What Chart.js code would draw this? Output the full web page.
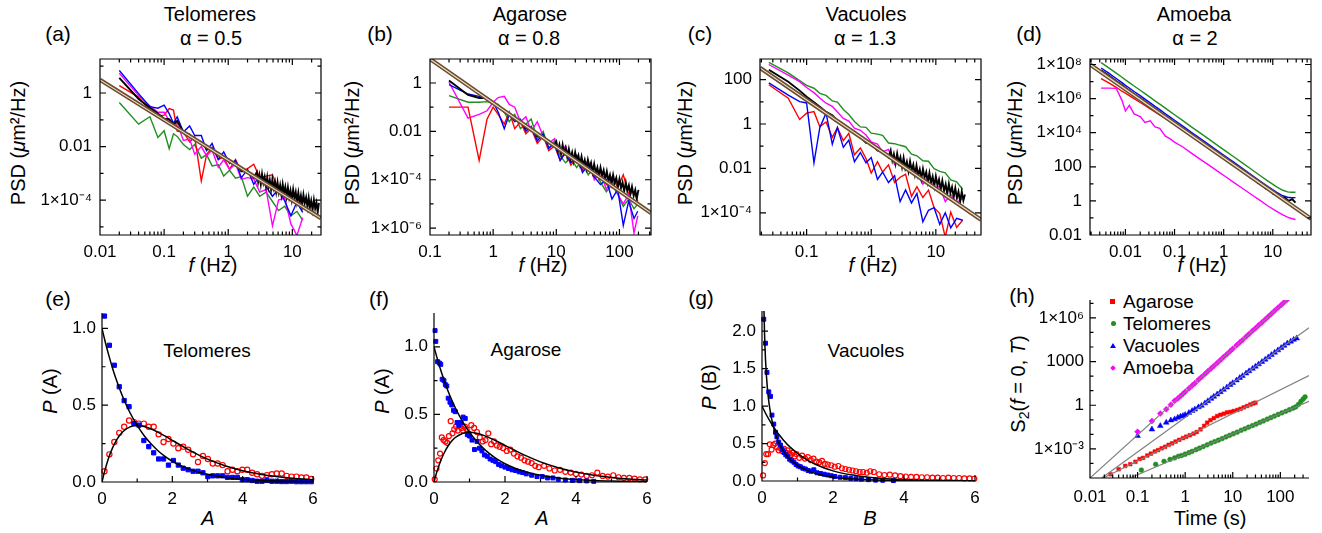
<!DOCTYPE html>
<html>
<head>
<meta charset="utf-8">
<script src="https://cdn.jsdelivr.net/npm/chart.js@4.4.1/dist/chart.umd.min.js"></script>
<style>
body{margin:0;width:1322px;height:533px;background:#fff;position:relative;overflow:hidden;font-family:"Liberation Sans",Arial,Helvetica,sans-serif;color:#000}
canvas{position:absolute}
.t{position:absolute;transform:translate(-50%,-50%);white-space:nowrap;line-height:1;font-size:20px}
.pl{font-size:21px}
.in{font-size:19px}
.rot{transform:translate(-50%,-50%) rotate(-90deg)}
.lg{position:absolute;transform:translate(0,-50%);white-space:nowrap;line-height:1;font-size:19px}
.mk{position:absolute}
sub{font-size:0.7em;vertical-align:-0.25em;line-height:0}
</style>
</head>
<body>
<!-- panel titles -->
<div class="t" style="left:210px;top:14px">Telomeres</div>
<div class="t" style="left:211px;top:38px">α = 0.5</div>
<div class="t" style="left:530px;top:14px">Agarose</div>
<div class="t" style="left:529px;top:38px">α = 0.8</div>
<div class="t" style="left:866px;top:14px">Vacuoles</div>
<div class="t" style="left:865px;top:38px">α = 1.3</div>
<div class="t" style="left:1194px;top:14px">Amoeba</div>
<div class="t" style="left:1195px;top:38px">α = 2</div>

<div class="t pl" style="left:58px;top:33px">(a)</div>
<div class="t pl" style="left:380px;top:33px">(b)</div>
<div class="t pl" style="left:700px;top:33px">(c)</div>
<div class="t pl" style="left:1029px;top:33px">(d)</div>
<div class="t pl" style="left:58px;top:298px">(e)</div>
<div class="t pl" style="left:379px;top:298px">(f)</div>
<div class="t pl" style="left:701px;top:297px">(g)</div>
<div class="t pl" style="left:1022px;top:295px">(h)</div>

<!-- axis titles -->
<div class="t rot" style="left:18px;top:143px">PSD (<i>μ</i>m²/Hz)</div>
<div class="t rot" style="left:352px;top:143px">PSD (<i>μ</i>m²/Hz)</div>
<div class="t rot" style="left:685px;top:143px">PSD (<i>μ</i>m²/Hz)</div>
<div class="t rot" style="left:1015px;top:143px">PSD (<i>μ</i>m²/Hz)</div>
<div class="t" style="left:213px;top:265px"><i>f</i> (Hz)</div>
<div class="t" style="left:543px;top:265px"><i>f</i> (Hz)</div>
<div class="t" style="left:873px;top:265px"><i>f</i> (Hz)</div>
<div class="t" style="left:1202px;top:265px"><i>f</i> (Hz)</div>

<div class="t rot" style="left:50px;top:391px"><i>P</i> (A)</div>
<div class="t rot" style="left:382px;top:391px"><i>P</i> (A)</div>
<div class="t rot" style="left:709px;top:387px"><i>P</i> (B)</div>
<div class="t rot" style="left:1018px;top:384px">S<sub>2</sub>(<i>f</i> = 0, <i>T</i>)</div>
<div class="t" style="left:208px;top:518px"><i>A</i></div>
<div class="t" style="left:542px;top:518px"><i>A</i></div>
<div class="t" style="left:870px;top:518px"><i>B</i></div>
<div class="t" style="left:1210px;top:518px">Time (s)</div>

<div class="t in" style="left:207px;top:350px">Telomeres</div>
<div class="t in" style="left:526px;top:349px">Agarose</div>
<div class="t in" style="left:866px;top:350px">Vacuoles</div>

<!-- legend of (h) -->
<div class="mk" style="left:1110px;top:299px;width:5px;height:5px;background:#ff0000"></div>
<div class="lg" style="left:1123px;top:301px">Agarose</div>
<div class="mk" style="left:1111px;top:321px;width:5px;height:5px;border-radius:50%;background:#1f8f1f"></div>
<div class="lg" style="left:1123px;top:323px">Telomeres</div>
<div class="mk" style="left:1110px;top:343px;width:0;height:0;border-left:3px solid transparent;border-right:3px solid transparent;border-bottom:5px solid #0000ff"></div>
<div class="lg" style="left:1123px;top:345px">Vacuoles</div>
<div class="mk" style="left:1111px;top:366px;width:4px;height:4px;background:#ff00ff;transform:rotate(45deg)"></div>
<div class="lg" style="left:1123px;top:367px">Amoeba</div>

<script>
// ---------- (a) Telomeres PSD ----------
const aFreq = [0.02, 0.04, 0.06, 0.08, 0.1, 0.12, 0.14, 0.16, 0.2, 0.25, 0.3, 0.38, 0.46, 0.56, 0.7, 0.85, 1.05, 1.3, 1.6, 2.0, 2.5, 3.1, 3.9, 4.9, 6.1, 7.6, 9.5, 11.8, 14.5];
const aRed = [1.9, 0.7, 0.23, 0.14, 0.15, 0.26, 0.23, 0.038, 0.035, 0.015, 0.023, 5.2e-4, 0.005, 0.0093, 0.0033, 0.004, 0.0014, 0.0033, 0.0012, 0.0015, 0.0022, 7.1e-4, 7.9e-4, 8.9e-4, 2.6e-4, 2.6e-4, 1.3e-4, 1.5e-4, 4.5e-5];
const aGreen = [0.44, 0.069, 0.13, 0.022, 0.039, 0.0083, 0.030, 0.024, 0.012, 0.0078, 0.012, 0.0037, 0.005, 0.0019, 0.0021, 7.9e-4, 0.0013, 6.6e-4, 7.6e-4, 1.4e-4, 3.1e-4, 1.4e-4, 2.0e-4, 8.9e-5, 4.1e-5, 5.9e-5, 2.6e-5, 3.8e-5, 1.8e-5];
const aBlue = [6.9, 0.95, 0.31, 0.27, 0.35, 0.17, 0.074, 0.13, 0.035, 0.059, 0.026, 0.026, 0.0071, 0.013, 0.0033, 0.0063, 0.0023, 0.003, 6.8e-4, 1.4e-3, 3.9e-4, 7.9e-4, 3.2e-4, 1.4e-4, 2.6e-4, 9.3e-5, 2.6e-5, 8.5e-5, 3.5e-5];
const aMagenta = [5.5, 0.8, 0.33, 0.19, 0.19, 0.093, 0.066, 0.076, 0.017, 0.019, 0.0052, 0.010, 0.0045, 0.0074, 0.0017, 0.0032, 0.0014, 0.0023, 6.0e-4, 6.9e-4, 6.2e-4, 2.0e-4, 2.5e-4, 1.1e-5, 1.0e-4, 1.2e-4, 1.3e-5, 4.8e-6, 2.2e-5];
const aBlackFreq = [0.02, 0.04, 0.06, 0.08, 0.1, 0.12, 0.14, 0.16, 0.2, 0.25, 0.3, 0.38, 0.46, 0.56, 0.7, 0.85, 1.05, 1.3, 1.6, 2.0, 2.5,
  2.8, 2.93, 3.07, 3.22, 3.37, 3.53, 3.7, 3.88, 4.06, 4.25, 4.45, 4.66, 4.88, 5.11, 5.36, 5.61, 5.88, 6.16, 6.45, 6.76, 7.08, 7.42, 7.77, 8.14, 8.53, 8.93, 9.36, 9.8, 10.3, 10.8, 11.3, 11.8, 12.4, 13.0, 13.6, 14.2, 14.9, 15.6, 16.4, 17.2, 18.0, 18.8, 19.7, 20.7, 21.7, 22.7, 23.8, 24.9, 26.0];
const aBlack = [3.7, 0.6, 0.28, 0.17, 0.11, 0.105, 0.066, 0.091, 0.035, 0.028, 0.017, 0.015, 0.0079, 0.0083, 0.0047, 0.004, 0.0026, 0.0023, 0.0012, 0.0012, 6.9e-4,
  1.12e-3, 4.8e-4, 8.7e-4, 3.9e-4, 9.3e-4, 4.5e-4, 7.4e-4, 3.3e-4, 7.1e-4, 3.1e-4, 5.6e-4, 2.5e-4, 6.0e-4, 2.9e-4, 4.8e-4, 2.1e-4, 4.6e-4, 2.0e-4, 3.6e-4, 1.6e-4, 3.9e-4, 1.8e-4, 3.1e-4, 1.38e-4, 3.0e-4, 1.29e-4, 2.3e-4, 1.05e-4, 2.5e-4, 1.17e-4, 2.0e-4, 8.7e-5, 1.9e-4, 8.1e-5, 1.48e-4, 6.8e-5, 1.6e-4, 7.6e-5, 1.26e-4, 5.6e-5, 1.23e-4, 5.3e-5, 9.5e-5, 4.3e-5, 1.02e-4, 4.9e-5, 8.1e-5, 3.6e-5, 7.9e-5];
const aFitFreq = [0.01, 28];
const aFit = [3.1, 2.1e-5];
const aXTicks = [0.01, 0.1, 1, 10];
const aXLabels = ['0.01', '0.1', '1', '10'];
const aYTicks = [1e-4, 0.01, 1];
const aYLabels = ['1×10⁻⁴', '0.01', '1'];

// ---------- (b) Agarose PSD ----------
const bFreq = [0.2, 0.4, 0.6, 0.8, 1.0, 1.2, 1.5, 1.8, 2.2, 2.7, 3.3, 4.0, 5.0, 6.2, 7.6, 9.4, 11.5, 14, 17, 21, 26, 32, 40, 50, 62, 76, 94, 115, 140, 170, 195];
const bRed = [0.1, 0.1, 6.3e-4, 0.032, 0.1, 0.05, 0.02, 0.063, 0.013, 0.025, 0.0079, 0.013, 0.0032, 0.0063, 1.6e-3, 2.5e-3, 6.3e-4, 1.6e-3, 4.0e-4, 7.9e-4, 2.5e-4, 5.0e-4, 1.3e-4, 2.5e-4, 6.3e-5, 1.3e-4, 5.0e-5, 1.6e-4, 2.5e-5, 3.2e-5, 1.3e-5];
const bGreen = [0.3, 0.16, 0.16, 0.17, 0.14, 0.13, 0.063, 0.025, 0.05, 0.013, 0.02, 0.032, 0.005, 0.01, 2.0e-3, 4.0e-3, 1.0e-3, 5.0e-4, 7.9e-4, 3.2e-4, 6.3e-4, 1.6e-4, 3.2e-4, 7.9e-5, 3.2e-5, 6.3e-5, 2.5e-5, 7.9e-6, 1.6e-5, 6.3e-6, 1.0e-5];
const bBlue = [0.85, 0.35, 0.28, 0.25, 0.16, 0.063, 0.013, 0.05, 0.025, 0.032, 0.01, 0.016, 0.004, 0.0079, 0.002, 0.0032, 6.3e-4, 1.3e-3, 5.0e-4, 1.0e-3, 2.0e-4, 4.0e-4, 1.3e-4, 6.3e-5, 1.0e-4, 1.6e-5, 4.0e-5, 1.3e-6, 1.3e-5, 2.5e-6, 5.0e-6];
const bMagenta = [1.07, 0.035, 0.05, 0.071, 0.16, 0.25, 0.28, 0.13, 0.1, 0.025, 0.04, 0.01, 0.025, 0.0063, 0.0032, 0.005, 1.3e-3, 2.5e-3, 5.0e-4, 1.0e-3, 3.2e-4, 6.3e-4, 1.0e-4, 2.0e-4, 4.0e-5, 1.0e-4, 2.5e-5, 1.0e-5, 2.5e-5, 6.3e-7, 3.2e-6];
const bBlackFreq = [0.2, 0.4, 0.6, 0.8, 1.0, 1.2, 1.5, 1.8, 2.2, 2.7, 3.3, 4.0, 5.0, 6.2, 7.6, 9.4,
  10, 10.6, 11.2, 11.9, 12.6, 13.3, 14.1, 14.9, 15.8, 16.8, 17.8, 18.8, 19.9, 21.1, 22.4, 23.7, 25.1, 26.6, 28.2, 29.9, 31.6, 33.5, 35.5, 37.6, 39.8, 42.2, 44.7, 47.3, 50.1, 53.1, 56.2, 59.6, 63.1, 66.8, 70.8, 75, 79.4, 84.1, 89.1, 94.4, 100, 106, 112, 119, 126, 133, 141, 149, 158, 168, 178, 188, 200];
const bBlack = [1.26, 0.32, 0.24, 0.24, 0.14, 0.11, 0.063, 0.05, 0.032, 0.025, 0.013, 0.013, 0.0063, 0.0063, 0.0032, 0.0028,
  3.8e-3, 1.6e-3, 2.8e-3, 1.2e-3, 2.8e-3, 1.29e-3, 2.1e-3, 8.9e-4, 1.86e-3, 7.8e-4, 1.35e-3, 5.9e-4, 1.35e-3, 6.3e-4, 1.02e-3, 4.4e-4, 9.1e-4, 3.8e-4, 6.6e-4, 2.9e-4, 6.6e-4, 3.1e-4, 5.0e-4, 2.1e-4, 4.5e-4, 1.86e-4, 3.2e-4, 1.41e-4, 3.2e-4, 1.51e-4, 2.5e-4, 1.05e-4, 2.2e-4, 9.1e-5, 1.58e-4, 6.9e-5, 1.58e-4, 7.4e-5, 1.2e-4, 5.1e-5, 1.07e-4, 4.5e-5, 7.8e-5, 3.4e-5, 7.8e-5, 3.5e-5, 5.9e-5, 2.5e-5, 5.2e-5, 2.2e-5, 3.8e-5, 1.66e-5, 3.8e-5];
const bFitFreq = [0.1, 316];
const bFit = [9.8, 4.2e-6];
const bXTicks = [0.1, 1, 10, 100];
const bXLabels = ['0.1', '1', '10', '100'];
const bYTicks = [1e-6, 1e-4, 0.01, 1];
const bYLabels = ['1×10⁻⁶', '1×10⁻⁴', '0.01', '1'];

// ---------- (c) Vacuoles PSD ----------
const cFreq = [0.026, 0.052, 0.078, 0.1, 0.13, 0.16, 0.2, 0.25, 0.3, 0.37, 0.45, 0.55, 0.68, 0.83, 1.0, 1.25, 1.5, 1.85, 2.3, 2.8, 3.4, 4.2, 5.1, 6.3, 7.7, 9.4, 11.5, 14, 17, 21, 26];
const cRed = [59, 14.5, 1.6, 3.1, 3.6, 0.76, 1.23, 0.25, 0.69, 0.18, 0.38, 0.041, 0.083, 0.028, 0.0062, 0.02, 0.0069, 0.0145, 0.0023, 0.004, 0.0054, 5.5e-4, 0.0015, 4.9e-4, 0.00105, 1.7e-4, 9.3e-5, 7.9e-6, 1.07e-4, 2.2e-5, 4.6e-5];
const cGreen = [600, 200, 90, 55, 41, 24, 19.5, 11, 9.8, 4.5, 2.7, 1.3, 0.74, 0.71, 0.39, 0.35, 0.31, 0.14, 0.13, 0.11, 0.095, 0.044, 0.037, 0.022, 0.021, 0.0098, 0.0074, 0.0063, 0.003, 0.0025, 0.00115];
const cBlue = [71, 20, 10.2, 8.9, 0.018, 0.68, 3.1, 0.123, 0.69, 0.089, 0.19, 0.02, 0.052, 0.018, 0.031, 0.0032, 0.0069, 0.0023, 0.0047, 3.2e-4, 0.00107, 2.8e-4, 7.4e-4, 3.9e-5, 1.3e-4, 1.7e-4, 3.0e-5, 1.0e-4, 2.1e-5, 5.6e-5, 4.6e-5];
const cMagenta = [480, 160, 81, 44, 26, 15, 8.7, 6.2, 3.5, 1.8, 1.35, 0.65, 0.52, 0.32, 0.155, 0.126, 0.055, 0.072, 0.015, 0.025, 0.0085, 0.0123, 0.0059, 0.00195, 0.0042, 0.00138, 0.00148, 3.2e-4, 6.8e-4, 2.8e-4, 4.6e-4];
const cBlackFreq = [0.026, 0.052, 0.078, 0.1, 0.13, 0.16, 0.2, 0.25, 0.3, 0.37, 0.45, 0.55, 0.68, 0.83, 1.0, 1.25, 1.5, 1.85,
  2.0, 2.12, 2.24, 2.38, 2.52, 2.67, 2.83, 3.0, 3.17, 3.36, 3.56, 3.77, 3.99, 4.23, 4.48, 4.74, 5.02, 5.32, 5.64, 5.97, 6.32, 6.7, 7.1, 7.52, 7.96, 8.43, 8.93, 9.46, 10.0, 10.6, 11.2, 11.9, 12.6, 13.4, 14.2, 15.0, 15.9, 16.8, 17.8, 18.9, 20.0, 21.2, 22.4, 23.8, 25.2, 26.7, 28.2];
const cBlack = [280, 81, 32, 17, 9.5, 6.0, 3.5, 2.5, 1.38, 1.0, 0.54, 0.46, 0.26, 0.141, 0.138, 0.063, 0.062, 0.032,
  0.065, 0.023, 0.044, 0.0166, 0.046, 0.018, 0.032, 0.0117, 0.030, 0.0105, 0.020, 0.0076, 0.021, 0.0083, 0.0148, 0.0054, 0.0135, 0.0048, 0.0091, 0.0035, 0.0095, 0.0038, 0.0068, 0.00245, 0.0062, 0.0022, 0.0043, 0.0016, 0.0044, 0.00174, 0.0032, 0.00112, 0.0028, 0.001, 0.00195, 7.2e-4, 0.002, 7.9e-4, 0.00145, 5.1e-4, 0.00129, 4.6e-4, 8.9e-4, 3.3e-4, 9.1e-4, 3.6e-4, 6.6e-4];
const cFitFreq = [0.019, 50];
const cFit = [340, 4.9e-5];
const cXTicks = [0.1, 1, 10];
const cXLabels = ['0.1', '1', '10'];
const cYTicks = [1e-4, 0.01, 1, 100];
const cYLabels = ['1×10⁻⁴', '0.01', '1', '100'];

// ---------- (d) Amoeba PSD ----------
const dFreq = [0.0032, 0.0045, 0.0065, 0.0085, 0.01, 0.012, 0.015, 0.02, 0.025, 0.032, 0.04, 0.05, 0.065, 0.08, 0.1, 0.15, 0.22, 0.33, 0.5, 0.75, 1.1, 1.6, 2.4, 3.6, 5.4, 8, 12, 16, 20, 24, 29];
const dRed = [1.5e7, 8.7e6, 4.6e6, 2.7e6, 2.1e6, 1.5e6, 1.0e6, 5.9e5, 4.0e5, 2.5e5, 1.66e5, 1.12e5, 6.9e4, 4.7e4, 3.1e4, 1.38e4, 6.5e3, 2.8e3, 1.23e3, 550, 257, 120, 54, 24, 10.7, 4.9, 2.3, 1.32, 0.83, 0.58, 0.42];
const dGreen = [1.3e8, 6.6e7, 3.1e7, 1.8e7, 1.26e7, 8.7e6, 5.5e6, 3.1e6, 1.95e6, 1.17e6, 7.4e5, 4.7e5, 2.75e5, 1.78e5, 1.12e5, 4.9e4, 2.2e4, 9.8e3, 4.2e3, 1.8e3, 830, 390, 170, 74, 32, 14.5, 6.6, 4.2, 3.4, 3.2, 3.2];
const dBlue = [6.2e7, 3.2e7, 1.5e7, 8.6e6, 6.0e6, 4.2e6, 2.6e6, 1.5e6, 9.3e5, 5.6e5, 3.5e5, 2.25e5, 1.3e5, 8.5e4, 5.4e4, 2.35e4, 1.05e4, 4.7e3, 2.0e3, 860, 400, 187, 81, 35, 15.3, 6.9, 3.2, 2.0, 1.63, 1.53, 1.55];
const dMagenta = [4.1e6, 4.1e6, 4.0e6, 7.9e5, 1.86e5, 4.0e5, 1.26e5, 8.9e4, 4.0e4, 5.0e4, 2.2e4, 1.8e4, 6.3e3, 4.5e3, 2.8e3, 1.4e3, 630, 280, 126, 56, 26, 12.3, 5.5, 2.45, 1.1, 0.5, 0.24, 0.15, 0.112, 0.093, 0.081];
const dBlackFreq = [0.0032, 0.0045, 0.0065, 0.0085, 0.01, 0.012, 0.015, 0.02, 0.025, 0.032, 0.04, 0.05, 0.065, 0.08, 0.1, 0.15, 0.22, 0.33, 0.5, 0.75, 1.1, 1.6, 2.0, 2.4, 2.9, 3.5, 4.2, 5.0, 6.0, 7.2, 8.6, 10.3, 12.3, 14.7, 17.6, 21, 25, 29];
const dBlack = [4.5e7, 2.3e7, 1.08e7, 6.2e6, 4.3e6, 3.0e6, 1.87e6, 1.08e6, 6.7e5, 4.0e5, 2.5e5, 1.62e5, 9.4e4, 6.1e4, 3.9e4, 1.69e4, 7.6e3, 3.4e3, 1.44e3, 620, 288, 135, 92, 50, 46, 24, 21, 11, 10.2, 5.2, 5.0, 2.5, 2.6, 1.5, 1.6, 1.0, 1.25, 0.8];
const dFitFreq = [0.0019, 60];
const dFit = [1.0e8, 0.09];
const dXTicks = [0.01, 0.1, 1, 10];
const dXLabels = ['0.01', '0.1', '1', '10'];
const dYTicks = [0.01, 1, 100, 1e4, 1e6, 1e8];
const dYLabels = ['0.01', '1', '100', '1×10⁴', '1×10⁶', '1×10⁸'];

// ---------- theory curves shared by (e) and (f) ----------
const curveA = [0, 0.05, 0.1, 0.2, 0.3, 0.4, 0.5, 0.6, 0.8, 1.0, 1.2, 1.4, 1.6, 1.8, 2.0, 2.3, 2.6, 3.0, 3.5, 4.0, 4.5, 5.0, 5.5, 6.0];
const curveDecay = [1, 0.951, 0.905, 0.819, 0.741, 0.670, 0.607, 0.549, 0.449, 0.368, 0.301, 0.247, 0.202, 0.165, 0.135, 0.100, 0.074, 0.050, 0.030, 0.018, 0.011, 0.0067, 0.0041, 0.0025];
const curvePeak = [0, 0.048, 0.090, 0.164, 0.222, 0.268, 0.303, 0.329, 0.359, 0.368, 0.361, 0.345, 0.323, 0.298, 0.271, 0.231, 0.193, 0.149, 0.106, 0.073, 0.050, 0.034, 0.022, 0.015];

// ---------- (e) Telomeres histograms ----------
const eA = [0.07, 0.21, 0.35, 0.49, 0.63, 0.77, 0.91, 1.05, 1.19, 1.33, 1.47, 1.61, 1.75, 1.89, 2.03, 2.17, 2.31, 2.45, 2.59, 2.73, 2.87, 3.01, 3.15, 3.29, 3.43, 3.57, 3.71, 3.85, 3.99, 4.13, 4.27, 4.41, 4.55, 4.69, 4.83, 4.97, 5.11, 5.25, 5.39, 5.53, 5.67, 5.81, 5.95];
const eBlue = [1.08, 0.89, 0.76, 0.62, 0.53, 0.49, 0.38, 0.37, 0.27, 0.23, 0.19, 0.15, 0.15, 0.11, 0.14, 0.11, 0.09, 0.08, 0.07, 0.07, 0.06, 0.035, 0.04, 0.04, 0.04, 0.03, 0.03, 0.03, 0.015, 0.015, 0.01, 0.005, 0.005, 0.01, 0.005, 0.005, 0.003, 0.003, 0.005, 0.002, 0.002, 0.002, 0.002];
const eRed = [0.07, 0.18, 0.26, 0.32, 0.36, 0.40, 0.39, 0.38, 0.38, 0.36, 0.36, 0.31, 0.26, 0.28, 0.25, 0.22, 0.23, 0.21, 0.18, 0.13, 0.17, 0.15, 0.12, 0.12, 0.11, 0.07, 0.08, 0.07, 0.08, 0.08, 0.06, 0.05, 0.04, 0.045, 0.05, 0.055, 0.055, 0.04, 0.035, 0.035, 0.03, 0.03, 0.02];

// ---------- (f) Agarose histograms ----------
const fBlueA = [0.03, 0.05, 0.1, 0.15, 0.19, 0.23, 0.28, 0.32, 0.36, 0.4, 0.45, 0.5, 0.55, 0.6, 0.65, 0.7, 0.76, 0.82, 0.88, 0.94, 1.0, 1.07, 1.14, 1.21, 1.28, 1.35, 1.42, 1.5, 1.58, 1.66, 1.74, 1.82, 1.9, 2.0, 2.1, 2.2, 2.3, 2.4, 2.5, 2.6, 2.75, 2.9, 3.05, 3.2, 3.35, 3.5, 3.7, 3.9, 4.1, 4.3, 4.5];
const fBlue = [1.12, 1.04, 0.89, 0.88, 0.87, 0.76, 0.75, 0.72, 0.71, 0.62, 0.59, 0.57, 0.53, 0.52, 0.44, 0.42, 0.44, 0.48, 0.47, 0.35, 0.34, 0.31, 0.24, 0.30, 0.25, 0.23, 0.20, 0.19, 0.17, 0.16, 0.15, 0.13, 0.12, 0.11, 0.10, 0.09, 0.085, 0.075, 0.07, 0.06, 0.05, 0.04, 0.04, 0.03, 0.03, 0.02, 0.015, 0.012, 0.01, 0.008, 0.005];
const fRedA = [0.02, 0.07, 0.12, 0.17, 0.22, 0.27, 0.32, 0.37, 0.42, 0.47, 0.52, 0.57, 0.62, 0.67, 0.72, 0.77, 0.82, 0.87, 0.92, 0.97, 1.05, 1.13, 1.21, 1.29, 1.37, 1.45, 1.53, 1.61, 1.69, 1.77, 1.85, 1.95, 2.05, 2.15, 2.25, 2.35, 2.45, 2.55, 2.65, 2.75, 2.85, 2.95, 3.1, 3.25, 3.4, 3.55, 3.7, 3.85, 4.0, 4.15, 4.3, 4.45, 4.6, 4.75, 4.9, 5.05, 5.2, 5.35, 5.5, 5.65, 5.8, 5.95];
const fRed = [0.02, 0.10, 0.16, 0.21, 0.33, 0.31, 0.30, 0.29, 0.34, 0.45, 0.36, 0.39, 0.41, 0.38, 0.42, 0.40, 0.38, 0.41, 0.39, 0.36, 0.42, 0.40, 0.37, 0.33, 0.30, 0.31, 0.36, 0.28, 0.30, 0.27, 0.26, 0.25, 0.23, 0.24, 0.21, 0.19, 0.18, 0.16, 0.15, 0.14, 0.12, 0.11, 0.12, 0.10, 0.085, 0.09, 0.075, 0.07, 0.06, 0.055, 0.045, 0.05, 0.07, 0.045, 0.04, 0.05, 0.035, 0.03, 0.03, 0.025, 0.02, 0.02];

// ---------- (g) Vacuoles histograms ----------
const gBlueB = [0.05, 0.1, 0.14, 0.19, 0.24, 0.28, 0.33, 0.38, 0.42, 0.47, 0.52, 0.57, 0.62, 0.67, 0.72, 0.78, 0.84, 0.9, 0.96, 1.02, 1.08, 1.15, 1.22, 1.3, 1.38, 1.46, 1.55, 1.65, 1.75, 1.85, 1.95, 2.05, 2.2, 2.35, 2.5, 2.65, 2.8, 3.0, 3.2, 3.4, 3.7];
const gBlue = [2.16, 1.84, 1.45, 1.19, 1.13, 0.88, 0.76, 0.65, 0.59, 0.52, 0.48, 0.42, 0.38, 0.35, 0.33, 0.29, 0.27, 0.25, 0.22, 0.2, 0.19, 0.17, 0.16, 0.14, 0.13, 0.15, 0.11, 0.1, 0.09, 0.08, 0.07, 0.06, 0.05, 0.045, 0.035, 0.03, 0.025, 0.018, 0.012, 0.01, 0.006];
const gRedB = [0.03, 0.08, 0.12, 0.17, 0.22, 0.27, 0.32, 0.37, 0.42, 0.47, 0.52, 0.57, 0.62, 0.67, 0.72, 0.77, 0.82, 0.87, 0.92, 0.97, 1.05, 1.13, 1.21, 1.29, 1.37, 1.45, 1.53, 1.61, 1.69, 1.77, 1.85, 1.95, 2.05, 2.15, 2.25, 2.35, 2.45, 2.55, 2.65, 2.75, 2.85, 2.95, 3.05, 3.15, 3.3, 3.45, 3.6, 3.75, 3.9, 4.05, 4.2, 4.35, 4.5, 4.65, 4.8, 4.95, 5.1, 5.25, 5.4, 5.55, 5.7, 5.85, 5.98];
const gRed = [0.075, 0.24, 0.36, 0.36, 0.49, 0.42, 0.48, 0.50, 0.45, 0.41, 0.44, 0.40, 0.43, 0.38, 0.41, 0.37, 0.35, 0.38, 0.33, 0.36, 0.31, 0.34, 0.30, 0.32, 0.28, 0.30, 0.26, 0.25, 0.27, 0.23, 0.22, 0.21, 0.19, 0.2, 0.17, 0.16, 0.15, 0.14, 0.13, 0.12, 0.12, 0.11, 0.13, 0.12, 0.09, 0.08, 0.085, 0.075, 0.065, 0.06, 0.055, 0.055, 0.05, 0.05, 0.045, 0.045, 0.04, 0.045, 0.04, 0.04, 0.035, 0.035, 0.03];
const gDecayB = [0, 0.1, 0.2, 0.3, 0.4, 0.5, 0.6, 0.8, 1.0, 1.2, 1.5, 2.0, 2.5, 3.0, 3.5, 4.0, 5.0, 6.0];
const gDecay = [1.0, 0.905, 0.819, 0.741, 0.670, 0.607, 0.549, 0.449, 0.368, 0.301, 0.223, 0.135, 0.082, 0.050, 0.030, 0.018, 0.0067, 0.0025];
const gSteepB = [0.025, 0.03, 0.04, 0.05, 0.07, 0.1, 0.15, 0.2, 0.3, 0.4, 0.5, 0.7, 1.0, 1.3, 1.6, 2.0, 2.5, 3.0, 4.0, 5.0, 6.0];
const gSteep = [3.5, 3.16, 2.7, 2.40, 1.99, 1.61, 1.25, 1.03, 0.763, 0.598, 0.484, 0.335, 0.208, 0.135, 0.090, 0.054, 0.029, 0.016, 0.0052, 0.0017, 0.0006];

// ---------- (h) S2(f=0,T) ----------
const hAgaroseT = [0.027, 0.04, 0.055, 0.07, 0.09, 0.11, 0.13, 0.16, 0.19, 0.23, 0.27, 0.32, 0.38, 0.45, 0.53, 0.63, 0.75, 0.9, 1.05, 1.25, 1.5, 1.75, 2.1, 2.5, 2.9, 3.4, 4.0, 4.7, 5.5, 6.5, 7.6, 9, 10.5, 12.5, 14.5, 17, 20, 23.5, 27, 30];
const hAgaroseS = [1.8e-5, 4.0e-5, 6.8e-5, 8.9e-5, 1.3e-4, 2.0e-4, 2.4e-4, 3.5e-4, 4.7e-4, 6.6e-4, 8.3e-4, 1.1e-3, 1.4e-3, 1.9e-3, 2.4e-3, 3.2e-3, 4.2e-3, 5.5e-3, 6.9e-3, 8.7e-3, 0.0112, 0.0145, 0.022, 0.038, 0.063, 0.095, 0.13, 0.18, 0.22, 0.26, 0.32, 0.35, 0.40, 0.47, 0.56, 0.71, 0.89, 1.12, 1.32, 1.5];
const hTelomeresT = [0.12, 0.24, 0.36, 0.48, 0.6, 0.72, 0.84, 1.0, 1.2, 1.4, 1.7, 2.0, 2.4, 2.9, 3.5, 4.2, 5, 6, 7.2, 8.6, 10.3, 12.4, 15, 18, 21.5, 26, 31, 37, 44, 53, 63, 75, 90, 108, 130, 155, 185, 210, 240, 270, 300, 330];
const hTelomeresS = [3.5e-5, 8.7e-5, 1.4e-4, 1.9e-4, 2.4e-4, 3.1e-4, 3.5e-4, 4.3e-4, 5.5e-4, 6.8e-4, 8.9e-4, 1.12e-3, 1.45e-3, 1.9e-3, 2.5e-3, 3.2e-3, 4.0e-3, 5.1e-3, 6.6e-3, 8.5e-3, 0.011, 0.014, 0.019, 0.024, 0.031, 0.040, 0.051, 0.066, 0.083, 0.11, 0.14, 0.18, 0.23, 0.30, 0.38, 0.49, 0.63, 0.76, 1.12, 1.8, 2.6, 3.7];
const hVacuolesT = [0.1, 0.2, 0.3, 0.4, 0.5, 0.6, 0.7, 0.8, 0.9, 1.0, 1.2, 1.4, 1.6, 1.9, 2.2, 2.6, 3, 3.5, 4, 4.7, 5.5, 6.4, 7.5, 8.8, 10, 12, 14, 16, 19, 22, 26, 30, 35, 41, 48, 56, 65, 76, 89, 104, 120, 140, 165, 190, 220];
const hVacuolesS = [0.0078, 0.022, 0.038, 0.065, 0.093, 0.11, 0.14, 0.17, 0.19, 0.22, 0.30, 0.41, 0.52, 0.74, 0.93, 1.38, 1.95, 2.8, 3.9, 5.6, 8.1, 11.7, 17, 25, 34, 52, 76, 103, 155, 219, 324, 457, 660, 955, 1380, 2000, 2880, 4170, 6030, 8710, 1.23e4, 1.78e4, 2.4e4, 3.2e4, 4.0e4];
const hAmoebaT = [0.1, 0.2, 0.3, 0.4, 0.5, 0.6, 0.7, 0.8, 0.9, 1.0, 1.2, 1.4, 1.6, 1.9, 2.2, 2.6, 3, 3.5, 4, 4.7, 5.5, 6.4, 7.5, 8.8, 10, 12, 14, 16, 19, 22, 26, 30, 35, 41, 48, 56, 65, 76, 89, 104, 120, 140];
const hAmoebaS = [0.015, 0.083, 0.27, 0.53, 1.1, 2.0, 2.9, 4.3, 6.1, 8.3, 14.3, 22.5, 33, 56, 86, 141, 215, 340, 500, 810, 1290, 2030, 3240, 5200, 7600, 1.3e4, 2.05e4, 3.0e4, 5.1e4, 7.8e4, 1.29e5, 1.95e5, 3.1e5, 4.9e5, 7.9e5, 1.26e6, 1.94e6, 3.1e6, 4.9e6, 7.8e6, 1.18e7, 1.87e7];
const hFitAmoebaT = [0.01, 400];
const hFitAmoebaS = [1e-5, 4e8];
const hFitVacuolesT = [0.0176, 400];
const hFitVacuolesS = [1e-5, 2.1e5];
const hFitAgaroseT = [0.019, 400];
const hFitAgaroseS = [1e-5, 110];
const hFitTelomeresT = [0.069, 400];
const hFitTelomeresS = [1e-5, 1.86];
const hXTicks = [0.01, 0.1, 1, 10, 100];
const hXLabels = ['0.01', '0.1', '1', '10', '100'];
const hYTicks = [1e-3, 1, 1000, 1e6];
const hYLabels = ['1×10⁻³', '1', '1000', '1×10⁶'];

// linear tick labels of the bottom row
const histXTicks = [0, 2, 4, 6];
const histXLabels = ['0', '2', '4', '6'];
const histYTicks = [0, 0.5, 1.0];
const histYLabels = ['0.0', '0.5', '1.0'];
const gYTicks = [0, 0.5, 1.0, 1.5, 2.0];
const gYLabels = ['0.0', '0.5', '1.0', '1.5', '2.0'];

// ---------------------------------------------------------------
const FONT = '"Liberation Sans", Arial, Helvetica, sans-serif';
const RED = '#ff0000', GREEN = '#1f8f1f', BLUE = '#0000ff', MAGENTA = '#ff00ff';
const BROWN = '#6b4c2e', CREAM = '#efe4cf', GRAY = '#808080';

function pts(xs, ys) { return xs.map((x, i) => ({x: x, y: ys[i]})); }

function subDecades(min, max) {
  const out = [];
  for (let e = Math.floor(Math.log10(min)); e <= Math.ceil(Math.log10(max)); e++) {
    for (let k = 2; k <= 9; k++) {
      const v = k * Math.pow(10, e);
      if (v > min && v < max) out.push(v);
    }
  }
  return out;
}
function decades(min, max, skip) {
  const out = [];
  for (let e = Math.ceil(Math.log10(min)); e <= Math.floor(Math.log10(max)); e++) {
    const v = Math.pow(10, e);
    if (v > min * 1.001 && v < max * 0.999 && !skip.some(s => Math.abs(s / v - 1) < 1e-6)) out.push(v);
  }
  return out;
}

function logAxis(min, max, major, labels, minorKind, pad) {
  return {type: 'logarithmic', min: min, max: max, major: major, labels: labels, pad: pad,
    minor: minorKind === 'sub' ? subDecades(min, max) : decades(min, max, major)};
}
function linAxis(min, max, major, labels, minor, pad) {
  return {type: 'linear', min: min, max: max, major: major, labels: labels, minor: minor, pad: pad};
}

function scaleOpts(ax, isX, size) {
  return {
    type: ax.type, min: ax.min, max: ax.max,
    grid: {display: false, drawTicks: false},
    border: {display: false},
    afterBuildTicks: s => { s.ticks = ax.major.map(v => ({value: v})); },
    afterFit: s => {
      if (isX) s.height = size; else s.width = size;
      s.paddingLeft = 0; s.paddingRight = 0; s.paddingTop = 0; s.paddingBottom = 0;
    },
    ticks: {autoSkip: false, maxRotation: 0, minRotation: 0, padding: ax.pad, color: '#000',
      font: {family: FONT, size: 17}, callback: (v, i) => ax.labels[i]}
  };
}

// inward tick marks + frame, drawn over the data like the original
function frameTicks(xAx, yAx, box) {
  return {
    id: 'frameTicks',
    afterDatasetsDraw(chart) {
      const ctx = chart.ctx, a = chart.chartArea, xs = chart.scales.x, ys = chart.scales.y;
      ctx.save();
      ctx.strokeStyle = '#000';
      ctx.lineWidth = 1.2;
      ctx.beginPath();
      if (box) {
        ctx.rect(a.left, a.top, a.right - a.left, a.bottom - a.top);
      } else {
        ctx.moveTo(a.left, a.top); ctx.lineTo(a.left, a.bottom); ctx.lineTo(a.right, a.bottom);
      }
      const xt = xAx.major.map(v => [v, 6]).concat(xAx.minor.map(v => [v, 3.5]));
      const yt = yAx.major.map(v => [v, 6]).concat(yAx.minor.map(v => [v, 3.5]));
      xt.forEach(([v, len]) => {
        const p = xs.getPixelForValue(v);
        ctx.moveTo(p, a.bottom); ctx.lineTo(p, a.bottom - len);
        if (box) { ctx.moveTo(p, a.top); ctx.lineTo(p, a.top + len); }
      });
      yt.forEach(([v, len]) => {
        const p = ys.getPixelForValue(v);
        ctx.moveTo(a.left, p); ctx.lineTo(a.left + len, p);
        if (box) { ctx.moveTo(a.right, p); ctx.lineTo(a.right - len, p); }
      });
      ctx.stroke();
      ctx.restore();
    }
  };
}

function makePanel(b, xAx, yAx, datasets, box) {
  const PL = 84, PT = 14, PR = 26, PB = 34;
  const cv = document.createElement('canvas');
  cv.width = b.R - b.L + PL + PR;
  cv.height = b.B - b.T + PT + PB;
  cv.style.left = (b.L - PL) + 'px';
  cv.style.top = (b.T - PT) + 'px';
  document.body.appendChild(cv);
  new Chart(cv, {
    type: 'line',
    data: {datasets: datasets},
    options: {
      responsive: false, animation: false, devicePixelRatio: 1, events: [],
      layout: {padding: {left: 0, right: PR, top: PT, bottom: 0}},
      plugins: {legend: {display: false}, tooltip: {enabled: false}},
      scales: {x: scaleOpts(xAx, true, PB), y: scaleOpts(yAx, false, PL)}
    },
    plugins: [frameTicks(xAx, yAx, box)]
  });
}

function line(xs, ys, color, width, order, smooth) {
  return {data: pts(xs, ys), borderColor: color, borderWidth: width, pointRadius: 0,
    fill: false, order: order, cubicInterpolationMode: smooth ? 'monotone' : 'default'};
}
function dots(xs, ys, style, radius, fillCol, edgeCol, edgeW, order, clip) {
  return {data: pts(xs, ys), showLine: false, pointStyle: style, pointRadius: radius,
    pointBackgroundColor: fillCol, pointBorderColor: edgeCol, pointBorderWidth: edgeW,
    order: order, clip: clip};
}

function psdSets(f, red, green, blue, magenta, fb, black, ff, fit) {
  return [
    line(ff, fit, CREAM, 1.1, 0),
    line(ff, fit, BROWN, 4.2, 1),
    line(fb, black, '#000', 1.9, 2),
    line(f, blue, BLUE, 1.4, 3),
    line(f, magenta, MAGENTA, 1.4, 4),
    line(f, red, RED, 1.4, 5),
    line(f, green, GREEN, 1.4, 6)
  ];
}

Chart.defaults.font.family = FONT;

// top row
makePanel({L: 100, R: 321, T: 59, B: 235},
  logAxis(0.01, 28, aXTicks, aXLabels, 'sub', 7),
  logAxis(5e-6, 18.6, aYTicks, aYLabels, 'dec', 8),
  psdSets(aFreq, aRed, aGreen, aBlue, aMagenta, aBlackFreq, aBlack, aFitFreq, aFit), true);

makePanel({L: 430, R: 651, T: 59, B: 235},
  logAxis(0.1, 316, bXTicks, bXLabels, 'sub', 7),
  logAxis(5.2e-7, 9.8, bYTicks, bYLabels, 'dec', 8),
  psdSets(bFreq, bRed, bGreen, bBlue, bMagenta, bBlackFreq, bBlack, bFitFreq, bFit), true);

makePanel({L: 760, R: 981, T: 59, B: 235},
  logAxis(0.019, 50, cXTicks, cXLabels, 'sub', 7),
  logAxis(1e-5, 850, cYTicks, cYLabels, 'dec', 8),
  psdSets(cFreq, cRed, cGreen, cBlue, cMagenta, cBlackFreq, cBlack, cFitFreq, cFit), true);

makePanel({L: 1090, R: 1311, T: 59, B: 235},
  logAxis(0.0019, 60, dXTicks, dXLabels, 'sub', 7),
  logAxis(0.01, 2.1e8, dYTicks, dYLabels, 'dec', 8),
  psdSets(dFreq, dRed, dGreen, dBlue, dMagenta, dBlackFreq, dBlack, dFitFreq, dFit), true);

// bottom row
makePanel({L: 102, R: 313, T: 313, B: 482},
  linAxis(0, 6, histXTicks, histXLabels, [1, 3, 5], 7),
  linAxis(0, 1.1, histYTicks, histYLabels, [0.25, 0.75], 6),
  [
    line(curveA, curveDecay, '#000', 1.5, 0, true),
    line(curveA, curvePeak, '#000', 1.5, 0, true),
    dots(eA, eBlue, 'rect', 3, BLUE, BLUE, 1, 1, false),
    dots(eA, eRed, 'circle', 2.6, 'rgba(0,0,0,0)', RED, 1.2, 2, false)
  ], false);

makePanel({L: 434, R: 647, T: 313, B: 482},
  linAxis(0, 6, histXTicks, histXLabels, [1, 3, 5], 7),
  linAxis(0, 1.25, histYTicks, histYLabels, [0.25, 0.75], 6),
  [
    line(curveA, curveDecay, '#000', 1.5, 0, true),
    line(curveA, curvePeak, '#000', 1.5, 0, true),
    dots(fBlueA, fBlue, 'rect', 2.8, BLUE, BLUE, 1, 1, false),
    dots(fRedA, fRed, 'circle', 2.5, 'rgba(0,0,0,0)', RED, 1.2, 2, false)
  ], false);

makePanel({L: 762, R: 975, T: 311, B: 481},
  linAxis(0, 6, histXTicks, histXLabels, [1, 3, 5], 7),
  linAxis(0, 2.27, gYTicks, gYLabels, [0.25, 0.75, 1.25, 1.75], 6),
  [
    line(gDecayB, gDecay, '#000', 1.5, 0, true),
    line(gSteepB, gSteep, '#000', 1.5, 0, true),
    dots(gBlueB, gBlue, 'rect', 2.8, BLUE, BLUE, 1, 1, false),
    dots(gRedB, gRed, 'circle', 2.5, 'rgba(0,0,0,0)', RED, 1.2, 2, false)
  ], false);

makePanel({L: 1090, R: 1309, T: 300, B: 478},
  logAxis(0.01, 400, hXTicks, hXLabels, 'sub', 9),
  logAxis(1e-5, 1.7e7, hYTicks, hYLabels, 'dec', 6),
  [
    line(hFitAmoebaT, hFitAmoebaS, GRAY, 1.2, 0),
    line(hFitVacuolesT, hFitVacuolesS, GRAY, 1.2, 0),
    line(hFitAgaroseT, hFitAgaroseS, GRAY, 1.2, 0),
    line(hFitTelomeresT, hFitTelomeresS, GRAY, 1.2, 0),
    dots(hAmoebaT, hAmoebaS, 'rectRot', 3, MAGENTA, MAGENTA, 0.5, 1),
    dots(hVacuolesT, hVacuolesS, 'triangle', 3.3, BLUE, BLUE, 0.5, 2),
    dots(hAgaroseT, hAgaroseS, 'rect', 2.6, RED, RED, 0.5, 3),
    dots(hTelomeresT, hTelomeresS, 'circle', 2.4, GREEN, GREEN, 0.5, 4)
  ], false);
</script>
</body>
</html>
